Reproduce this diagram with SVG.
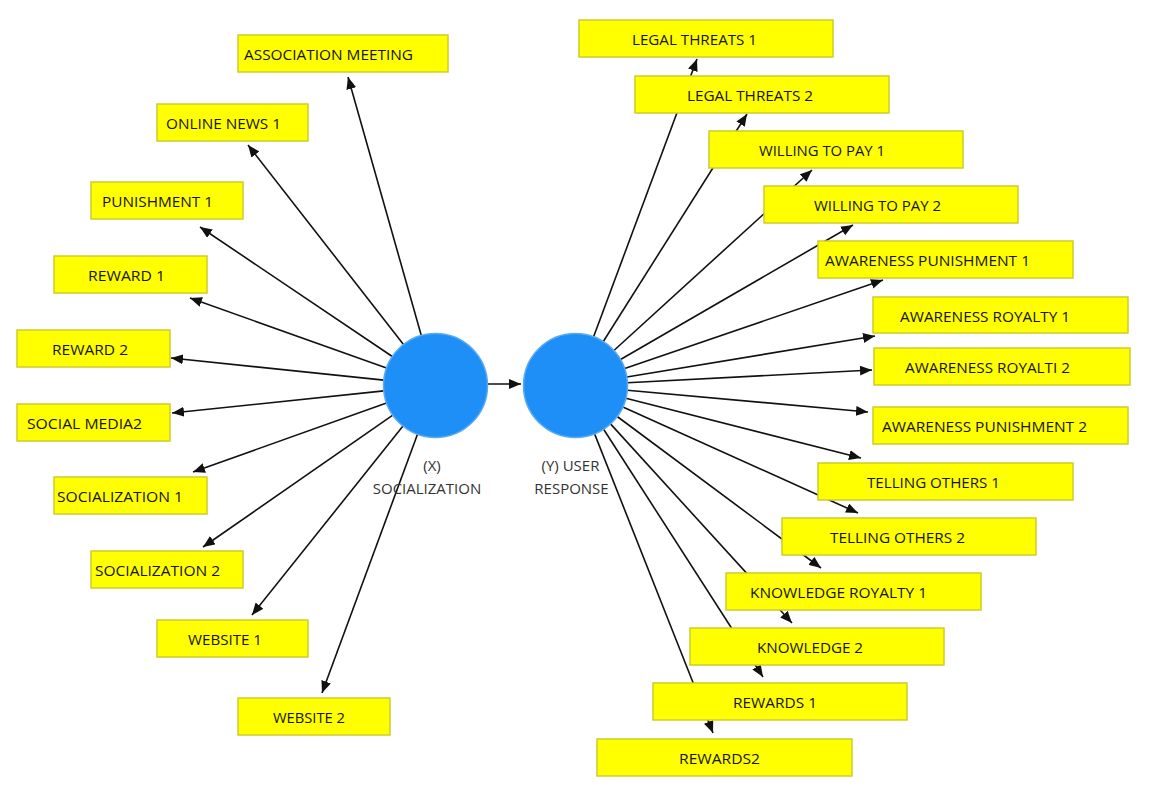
<svg xmlns="http://www.w3.org/2000/svg" width="1152" height="795" viewBox="0 0 1152 795">
<style>
.box{fill:#ffff00;stroke:#cdcd2a;stroke-width:1.5}
.lbl{font-family:"Open Sans","Noto Sans",sans-serif;font-size:15px;fill:#141414}
.clbl{font-family:"Open Sans","Noto Sans",sans-serif;font-size:15px;fill:#333333;text-anchor:middle}
.edge{stroke:#111111;stroke-width:1.6;fill:none;marker-end:url(#ah)}
.lv{fill:#1e8ff7;stroke:#5aaaf2;stroke-width:1.5}
</style>
<defs>
<marker id="ah" markerUnits="userSpaceOnUse" markerWidth="12" markerHeight="10" viewBox="0 0 12 10" refX="12" refY="5" orient="auto">
<path d="M0,0 L12,5 L0,10 z" fill="#111"/>
</marker>
</defs>
<rect width="1152" height="795" fill="#ffffff"/>
<g id="connectors">
<line class="edge" x1="421.3" y1="335.5" x2="348" y2="77"/>
<line class="edge" x1="403.5" y1="344.5" x2="248" y2="145"/>
<line class="edge" x1="392.3" y1="356.5" x2="200" y2="227"/>
<line class="edge" x1="386.5" y1="368.0" x2="190" y2="298"/>
<line class="edge" x1="383.8" y1="380.1" x2="171" y2="358"/>
<line class="edge" x1="383.8" y1="390.9" x2="172" y2="413"/>
<line class="edge" x1="386.5" y1="403.0" x2="193" y2="472"/>
<line class="edge" x1="392.8" y1="415.2" x2="203" y2="547"/>
<line class="edge" x1="403.0" y1="426.1" x2="252" y2="615"/>
<line class="edge" x1="417.5" y1="434.3" x2="322" y2="693"/>
<line class="edge" x1="488" y1="384" x2="521" y2="384"/>
<line class="edge" x1="593.6" y1="336.8" x2="697" y2="59"/>
<line class="edge" x1="603.3" y1="341.5" x2="747" y2="114"/>
<line class="edge" x1="613.9" y1="350.5" x2="812" y2="170"/>
<line class="edge" x1="620.5" y1="359.5" x2="853" y2="225"/>
<line class="edge" x1="624.7" y1="368.6" x2="883" y2="280"/>
<line class="edge" x1="626.8" y1="377.0" x2="875" y2="336"/>
<line class="edge" x1="627.4" y1="382.8" x2="872" y2="370"/>
<line class="edge" x1="627.3" y1="390.2" x2="868" y2="412"/>
<line class="edge" x1="625.9" y1="398.3" x2="861" y2="458"/>
<line class="edge" x1="622.9" y1="406.9" x2="858" y2="513"/>
<line class="edge" x1="617.2" y1="416.5" x2="821" y2="568"/>
<line class="edge" x1="610.5" y1="423.9" x2="792" y2="623"/>
<line class="edge" x1="603.6" y1="429.2" x2="763" y2="677"/>
<line class="edge" x1="594.6" y1="433.9" x2="713" y2="733"/>
</g>
<g id="socialization">
<circle class="lv" cx="435.5" cy="385.5" r="52"/>
<text class="clbl" x="432" y="471">(X)</text>
<text class="clbl" x="427" y="494">SOCIALIZATION</text>
</g>
<g id="user_response">
<circle class="lv" cx="575.5" cy="385.5" r="52"/>
<text class="clbl" x="570.5" y="471">(Y) USER</text>
<text class="clbl" x="571.5" y="494">RESPONSE</text>
</g>
<g id="association_meeting"><rect class="box" x="238" y="35" width="210" height="37"/><text class="lbl" x="244" y="59.5" textLength="169" lengthAdjust="spacingAndGlyphs">ASSOCIATION MEETING</text></g>
<g id="online_news_1"><rect class="box" x="157" y="104" width="151" height="37"/><text class="lbl" x="166" y="128.5" textLength="115" lengthAdjust="spacingAndGlyphs">ONLINE NEWS 1</text></g>
<g id="punishment_1"><rect class="box" x="91" y="182" width="152" height="37"/><text class="lbl" x="102" y="206.5" textLength="111" lengthAdjust="spacingAndGlyphs">PUNISHMENT 1</text></g>
<g id="reward_1"><rect class="box" x="54" y="256" width="153" height="37"/><text class="lbl" x="88" y="280.5" textLength="77" lengthAdjust="spacingAndGlyphs">REWARD 1</text></g>
<g id="reward_2"><rect class="box" x="17" y="330" width="153" height="37"/><text class="lbl" x="52" y="354.5" textLength="76" lengthAdjust="spacingAndGlyphs">REWARD 2</text></g>
<g id="social_media2"><rect class="box" x="17" y="404" width="153" height="37"/><text class="lbl" x="27" y="428.5" textLength="115" lengthAdjust="spacingAndGlyphs">SOCIAL MEDIA2</text></g>
<g id="socialization_1"><rect class="box" x="54" y="477" width="153" height="37"/><text class="lbl" x="57" y="501.5" textLength="126" lengthAdjust="spacingAndGlyphs">SOCIALIZATION 1</text></g>
<g id="socialization_2"><rect class="box" x="91" y="551" width="152" height="37"/><text class="lbl" x="95" y="575.5" textLength="125" lengthAdjust="spacingAndGlyphs">SOCIALIZATION 2</text></g>
<g id="website_1"><rect class="box" x="157" y="620" width="151" height="37"/><text class="lbl" x="188" y="644.5" textLength="74" lengthAdjust="spacingAndGlyphs">WEBSITE 1</text></g>
<g id="website_2"><rect class="box" x="238" y="698" width="152" height="37"/><text class="lbl" x="273" y="722.5" textLength="72" lengthAdjust="spacingAndGlyphs">WEBSITE 2</text></g>
<g id="legal_threats_1"><rect class="box" x="579" y="20" width="254" height="37"/><text class="lbl" x="632" y="44.5" textLength="125" lengthAdjust="spacingAndGlyphs">LEGAL THREATS 1</text></g>
<g id="legal_threats_2"><rect class="box" x="635" y="76" width="254" height="37"/><text class="lbl" x="687" y="100.5" textLength="126" lengthAdjust="spacingAndGlyphs">LEGAL THREATS 2</text></g>
<g id="willing_to_pay_1"><rect class="box" x="709" y="131" width="254" height="37"/><text class="lbl" x="759" y="155.5" textLength="126" lengthAdjust="spacingAndGlyphs">WILLING TO PAY 1</text></g>
<g id="willing_to_pay_2"><rect class="box" x="764" y="186" width="254" height="37"/><text class="lbl" x="814" y="210.5" textLength="127" lengthAdjust="spacingAndGlyphs">WILLING TO PAY 2</text></g>
<g id="awareness_punishment_1"><rect class="box" x="818" y="241" width="255" height="37"/><text class="lbl" x="825" y="265.5" textLength="205" lengthAdjust="spacingAndGlyphs">AWARENESS PUNISHMENT 1</text></g>
<g id="awareness_royalty_1"><rect class="box" x="873" y="297" width="255" height="36"/><text class="lbl" x="900" y="321.5" textLength="170" lengthAdjust="spacingAndGlyphs">AWARENESS ROYALTY 1</text></g>
<g id="awareness_royalti_2"><rect class="box" x="874" y="348" width="256" height="37"/><text class="lbl" x="905" y="372.5" textLength="165" lengthAdjust="spacingAndGlyphs">AWARENESS ROYALTI 2</text></g>
<g id="awareness_punishment_2"><rect class="box" x="873" y="407" width="255" height="37"/><text class="lbl" x="882" y="431.5" textLength="205" lengthAdjust="spacingAndGlyphs">AWARENESS PUNISHMENT 2</text></g>
<g id="telling_others_1"><rect class="box" x="818" y="463" width="255" height="37"/><text class="lbl" x="867" y="487.5" textLength="133" lengthAdjust="spacingAndGlyphs">TELLING OTHERS 1</text></g>
<g id="telling_others_2"><rect class="box" x="782" y="518" width="254" height="37"/><text class="lbl" x="830" y="542.5" textLength="135" lengthAdjust="spacingAndGlyphs">TELLING OTHERS 2</text></g>
<g id="knowledge_royalty_1"><rect class="box" x="726" y="573" width="255" height="37"/><text class="lbl" x="750" y="597.5" textLength="177" lengthAdjust="spacingAndGlyphs">KNOWLEDGE ROYALTY 1</text></g>
<g id="knowledge_2"><rect class="box" x="690" y="628" width="254" height="37"/><text class="lbl" x="757" y="652.5" textLength="106" lengthAdjust="spacingAndGlyphs">KNOWLEDGE 2</text></g>
<g id="rewards_1"><rect class="box" x="653" y="683" width="254" height="37"/><text class="lbl" x="733" y="707.5" textLength="84" lengthAdjust="spacingAndGlyphs">REWARDS 1</text></g>
<g id="rewards2"><rect class="box" x="597" y="739" width="255" height="37"/><text class="lbl" x="679" y="763.5" textLength="81" lengthAdjust="spacingAndGlyphs">REWARDS2</text></g>
</svg>
